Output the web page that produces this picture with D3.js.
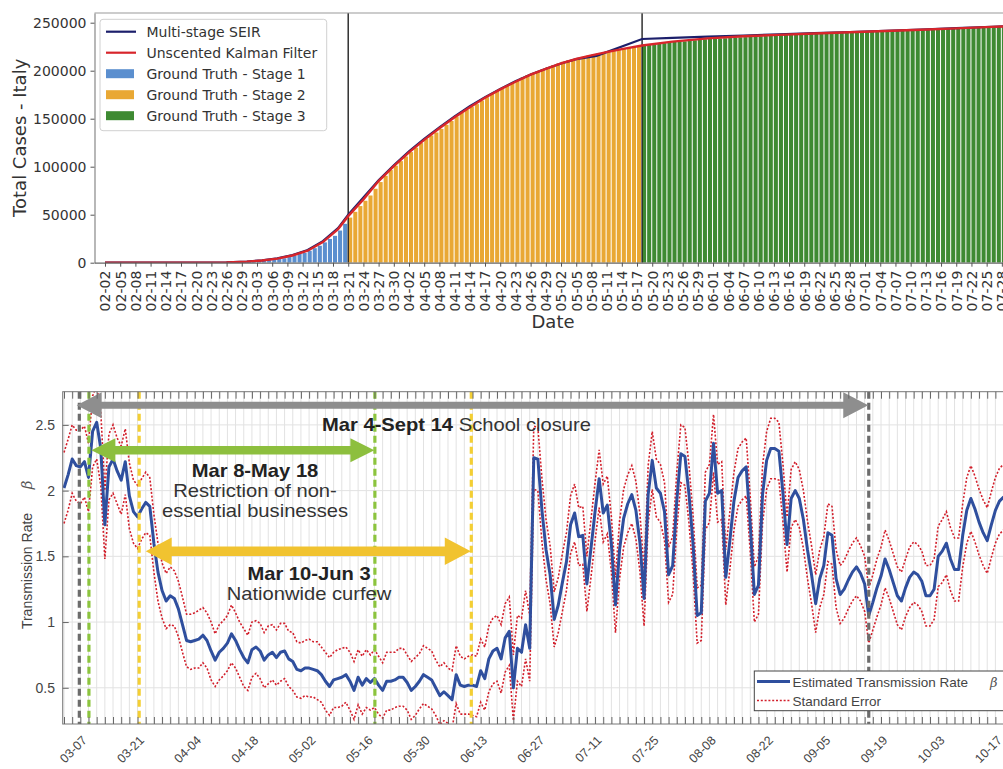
<!DOCTYPE html>
<html>
<head>
<meta charset="utf-8">
<script src="https://cdn.jsdelivr.net/npm/d3@7"></script>
<style>
  body { margin: 0; background: #fff; }
  svg { display: block; }
</style>
</head>
<body>
<div id="chart"></div>
<script>
// ---------- top panel: total cases, one bar per day from 02-02 ----------
var casesStart = new Date(2020, 1, 2);
var cases = [
  2,2,2,2,3,3,3,3,3,3,
  3,3,3,3,3,3,3,3,3,3,
  3,20,79,150,229,322,400,650,888,1128,
  1694,2036,2502,3089,3858,4636,5883,7375,9172,10149,
  12462,15113,17660,21157,24747,27980,33500,40500,47000,53000,
  59000,64500,70000,77000,84000,90500,96500,101000,105800,110600,
  115200,119800,124600,128900,132500,135600,139400,143600,147600,152300,
  156400,159500,162500,165200,168900,172400,175900,179000,181200,184000,
  187300,190000,193000,195400,197700,199400,201500,203600,205500,207400,
  209300,210700,211900,213000,214500,215900,217200,218300,219100,219800,
  221200,222100,223100,223900,224800,225400,225900,226700,227400,228000,
  228700,229300,229900,230200,230600,231100,231700,232200,232700,233000,
  233200,233500,233800,234000,234500,234800,235000,235300,235600,235800,
  236100,236300,236700,237000,237300,237500,237800,238200,238000,238300,
  238500,238700,238800,239400,239700,240000,240100,240300,240400,240600,
  240800,241000,241200,241400,241600,241800,242000,242100,242400,242600,
  242800,243100,243200,243300,243500,243700,244000,244200,244400,244600,
  244800,245000,245300,245600,245900,246100,246300,246500,246800
];
var stageStart = [0, 48, 106];   // day index where each stage begins
var stageNames = ["Ground Truth - Stage 1", "Ground Truth - Stage 2", "Ground Truth - Stage 3"];

var seirDays  = [0,18,24,28,31,34,37,40,43,46,48,51,54,57,60,63,66,69,72,75,78,81,84,87,90,93,97,106,112,119,126,133,140,147,154,161,168,175,182];
var seirCases = [0,60,350,1200,2500,4600,8000,13200,22500,36000,50000,68000,86000,101500,116000,129000,141000,152500,163000,172500,181000,189000,196000,202000,207500,212000,215500,233000,234200,235400,236600,237800,239100,240300,241600,242900,244300,245800,247300];
var ukfDays   = [0,18,24,28,31,34,37,40,43,46,48,51,54,57,60,63,66,69,72,75,78,81,84,87,90,93,96,99,102,106,112,119,126,133,140,147,154,161,168,175,182];
var ukfCases  = [0,50,300,1100,2300,4300,7500,12500,21500,35000,48500,66000,85000,100500,115000,128000,140000,151500,162000,171800,180500,188500,195800,202000,207600,212200,216000,219300,222500,226300,230300,233700,235900,237300,238700,240000,241300,242700,244100,245600,247100];
var caseTicks = [0, 50000, 100000, 150000, 200000, 250000];

// ---------- bottom panel: transmission rate, daily from 03-01 ----------
var betaStart = new Date(2020, 2, 1);
var beta = [
  2.02,2.12,2.24,2.19,2.18,2.22,2.10,2.45,2.52,2.32,
  1.74,2.18,2.24,2.15,2.08,2.22,1.96,1.84,1.80,1.86,
  1.91,1.88,1.60,1.38,1.24,1.16,1.20,1.18,1.10,0.98,
  0.86,0.85,0.86,0.87,0.90,0.86,0.78,0.71,0.77,0.80,
  0.84,0.91,0.86,0.79,0.73,0.69,0.79,0.81,0.78,0.71,
  0.75,0.77,0.73,0.77,0.78,0.72,0.70,0.64,0.63,0.65,
  0.65,0.64,0.63,0.60,0.55,0.51,0.56,0.57,0.58,0.60,
  0.55,0.48,0.58,0.52,0.57,0.54,0.57,0.52,0.48,0.55,
  0.55,0.56,0.58,0.58,0.54,0.48,0.51,0.55,0.60,0.58,
  0.56,0.50,0.44,0.47,0.44,0.41,0.60,0.52,0.51,0.52,
  0.52,0.51,0.63,0.57,0.72,0.78,0.80,0.72,0.88,0.93,
  0.50,0.80,0.77,0.98,0.80,2.25,2.24,1.85,1.55,1.36,
  1.02,1.13,1.30,1.46,1.74,1.83,1.65,1.66,1.29,1.56,
  1.84,2.09,1.83,1.89,1.59,1.13,1.55,1.79,1.90,1.97,
  1.85,1.60,1.18,1.97,2.23,2.02,1.98,1.84,1.36,1.43,
  1.92,2.28,2.26,1.97,1.59,1.05,1.07,1.92,1.98,2.36,
  1.98,2.00,1.34,1.62,1.92,2.10,2.15,2.18,1.74,1.21,
  1.28,1.97,2.23,2.32,2.32,2.30,1.98,1.59,1.94,2.00,
  1.94,1.78,1.55,1.36,1.14,1.33,1.43,1.68,1.66,1.33,
  1.21,1.25,1.32,1.38,1.42,1.37,1.29,1.05,1.15,1.26,
  1.35,1.48,1.40,1.30,1.20,1.16,1.26,1.34,1.38,1.36,
  1.31,1.20,1.20,1.25,1.50,1.54,1.60,1.48,1.40,1.40,
  1.66,1.85,1.94,1.86,1.76,1.68,1.62,1.74,1.85,1.92,
  1.95,1.97
];
var betaSE = [
  .27,.27,.26,.27,.28,.27,.26,.27,.28,.28,
  .26,.25,.26,.25,.26,.25,.25,.24,.24,.23,
  .23,.22,.22,.22,.21,.21,.22,.21,.21,.21,
  .20,.21,.21,.22,.21,.21,.22,.20,.21,.21,
  .21,.22,.21,.21,.22,.21,.21,.20,.21,.21,
  .22,.21,.21,.22,.21,.21,.22,.21,.21,.21,
  .22,.21,.22,.21,.22,.22,.21,.22,.22,.21,
  .22,.22,.21,.22,.22,.21,.22,.22,.21,.22,
  .22,.21,.22,.22,.21,.22,.22,.21,.22,.22,
  .22,.21,.22,.22,.21,.22,.22,.22,.21,.22,
  .23,.23,.24,.24,.25,.25,.25,.26,.26,.26,
  .25,.25,.26,.26,.25,.24,.24,.24,.23,.22,
  .21,.21,.22,.22,.22,.22,.22,.22,.21,.22,
  .22,.22,.22,.22,.21,.21,.22,.22,.22,.22,
  .22,.22,.21,.22,.22,.22,.22,.22,.21,.22,
  .22,.22,.22,.22,.22,.21,.21,.22,.22,.22,
  .22,.22,.21,.22,.22,.22,.22,.22,.21,.21,
  .22,.22,.22,.23,.23,.22,.22,.21,.22,.22,
  .22,.22,.22,.22,.22,.22,.22,.22,.22,.22,
  .22,.22,.22,.22,.22,.21,.21,.21,.21,.22,
  .22,.22,.22,.22,.22,.22,.22,.23,.23,.23,
  .23,.23,.23,.23,.23,.24,.24,.24,.24,.24,
  .24,.25,.25,.25,.25,.25,.25,.25,.25,.25,
  .25,.25
];
var betaTicks = [0.5, 1, 1.5, 2, 2.5];

// policy periods (day index from 03-01 where the dashed lines / arrows sit)
var policyBold  = ["Mar 4-Sept 14", "Mar 8-May 18", "Mar 10-Jun 3"];
var policyText  = [["School closure"], ["Restriction of non-", "essential businesses"], ["Nationwide curfew"]];
var policyLineA = [3.75, 6.1, 18.4];
var policyLineB = [197, 76.1, 99.7];
var policyArrowA = [3.1, 6.7, 20.0];

var W = 1003, H = 769;
var fmtMD = d3.timeFormat("%m-%d");

var svg = d3.select("#chart")
  .append("svg")
  .attr("width", W)
  .attr("height", H);

// ================= top panel =================
var topFont = "'DejaVu Sans', Verdana, sans-serif";
var stageColors = ["#5b8fcf", "#e9a834", "#3e8a32"];
var pxDay = 5.067;
var xT = d3.scaleLinear().domain([-2.07, 186]).range([94.5, 94.5 + 188.07 * pxDay]);
var yT = d3.scaleLinear().domain([0, 260100]).range([262.7, 13]);

var gTop = svg.append("g").style("font-family", topFont);

gTop.append("clipPath").attr("id", "clipTop")
  .append("rect").attr("x", 94.5).attr("y", 0).attr("width", W - 94.5).attr("height", 262.7);

function stageOf(i) {
  return i >= stageStart[2] ? 2 : (i >= stageStart[1] ? 1 : 0);
}

var plotTop = gTop.append("g").attr("clip-path", "url(#clipTop)");

plotTop.selectAll("rect.bar")
  .data(cases)
  .join("rect")
    .attr("class", "bar")
    .attr("x", function(d, i) { return xT(i); })
    .attr("width", xT(0.8) - xT(0))
    .attr("y", function(d) { return yT(d); })
    .attr("height", function(d) { return yT(0) - yT(d); })
    .attr("fill", function(d, i) { return stageColors[stageOf(i)]; });

// stage boundaries
plotTop.selectAll("line.stage")
  .data(stageStart.slice(1))
  .join("line")
    .attr("x1", function(d) { return xT(d); })
    .attr("x2", function(d) { return xT(d); })
    .attr("y1", 13).attr("y2", 262.7)
    .attr("stroke", "#222").attr("stroke-width", 1.4);

var lineT = d3.line()
  .x(function(d) { return xT(d[0]); })
  .y(function(d) { return yT(d[1]); });

plotTop.append("path")
  .attr("d", lineT(d3.zip(seirDays, seirCases)))
  .attr("fill", "none").attr("stroke", "#1c1f6b").attr("stroke-width", 2.2);

plotTop.append("path")
  .attr("d", lineT(d3.zip(ukfDays, ukfCases)))
  .attr("fill", "none").attr("stroke", "#d7252b").attr("stroke-width", 2.4);

// spines
gTop.append("line").attr("x1", 94.5).attr("x2", W).attr("y1", 13).attr("y2", 13)
  .attr("stroke", "#999").attr("stroke-width", 1.2);

var yAxisT = gTop.append("g")
  .attr("transform", "translate(94.5,0)")
  .call(d3.axisLeft(yT).tickValues(caseTicks).tickSize(4).tickSizeOuter(0).tickPadding(4).tickFormat(d3.format("d")));
yAxisT.attr("font-family", null).attr("font-size", 14);
yAxisT.select(".domain").attr("stroke", "#888").attr("stroke-width", 1.2);
yAxisT.selectAll(".tick line").attr("stroke", "#555");
yAxisT.selectAll(".tick text").attr("fill", "#333");

var xAxisT = gTop.append("g")
  .attr("transform", "translate(0,262.7)")
  .call(d3.axisBottom(xT)
    .tickValues(d3.range(0, 180, 3))
    .tickSize(4).tickSizeOuter(0)
    .tickFormat(function(i) { return fmtMD(d3.timeDay.offset(casesStart, i)); }));
xAxisT.attr("font-family", null).attr("font-size", 14);
xAxisT.select(".domain").attr("stroke", "#666").attr("stroke-width", 1.2);
xAxisT.selectAll(".tick line").attr("stroke", "#555");
xAxisT.selectAll(".tick text")
  .attr("fill", "#333")
  .attr("transform", "rotate(-90)")
  .attr("text-anchor", "end")
  .attr("x", -8).attr("y", 0).attr("dy", "0.35em");

gTop.append("text")
  .attr("transform", "translate(26,137.8) rotate(-90)")
  .attr("text-anchor", "middle")
  .attr("font-size", 18).attr("fill", "#333")
  .text("Total Cases - Italy");

gTop.append("text")
  .attr("x", 553).attr("y", 328)
  .attr("text-anchor", "middle")
  .attr("font-size", 18).attr("fill", "#333")
  .text("Date");

// legend
var legT = gTop.append("g");
legT.append("rect")
  .attr("x", 100).attr("y", 19.3).attr("width", 226.7).attr("height", 111.4).attr("rx", 3)
  .attr("fill", "#fff").attr("fill-opacity", 0.85).attr("stroke", "#d0d0d0");

var legItems = [
  {name: "Multi-stage SEIR", type: "line", color: "#1c1f6b"},
  {name: "Unscented Kalman Filter", type: "line", color: "#d7252b"}
].concat(stageNames.map(function(n, i) { return {name: n, type: "patch", color: stageColors[i]}; }));

legItems.forEach(function(d, i) {
  var cy = 31.7 + i * 21;
  if (d.type === "line") {
    legT.append("line").attr("x1", 106).attr("x2", 136).attr("y1", cy).attr("y2", cy)
      .attr("stroke", d.color).attr("stroke-width", 2.2);
  } else {
    legT.append("rect").attr("x", 106).attr("y", cy - 4.5).attr("width", 28).attr("height", 9)
      .attr("fill", d.color);
  }
  legT.append("text").attr("x", 146.5).attr("y", cy + 5)
    .attr("font-size", 14).attr("fill", "#333").text(d.name);
});

// ================= bottom panel =================
var botFont = "'Liberation Sans', Arial, Helvetica, sans-serif";
var bx0 = 62.7, by0 = 391.7, by1 = 724;
var xB = d3.scaleLinear().domain([-0.32, 233]).range([bx0, bx0 + 233.32 * 4.085]);
var yB = d3.scaleLinear().domain([0.2245, 2.7525]).range([by1, by0]);
var gridDays = d3.range(0, 233, 2);
var labelDays = d3.range(6, 231, 14);

var gBot = svg.append("g").style("font-family", botFont);

gBot.append("clipPath").attr("id", "clipBot")
  .append("rect").attr("x", bx0).attr("y", by0).attr("width", W - bx0).attr("height", by1 - by0);

var plotB = gBot.append("g").attr("clip-path", "url(#clipBot)");

// grid
plotB.selectAll("line.vgrid")
  .data(gridDays)
  .join("line")
    .attr("x1", function(d) { return xB(d); }).attr("x2", function(d) { return xB(d); })
    .attr("y1", by0).attr("y2", by1)
    .attr("stroke", "#e2e2e2").attr("stroke-width", 1);
plotB.selectAll("line.hgrid")
  .data(betaTicks)
  .join("line")
    .attr("x1", bx0).attr("x2", W)
    .attr("y1", function(d) { return yB(d); }).attr("y2", function(d) { return yB(d); })
    .attr("stroke", "#e2e2e2").attr("stroke-width", 1);

var lineB = d3.line()
  .x(function(d, i) { return xB(i); })
  .y(function(d) { return yB(d); });

var upper = beta.map(function(b, i) { return b + betaSE[i]; });
var lower = beta.map(function(b, i) { return b - betaSE[i]; });

[upper, lower].forEach(function(s) {
  plotB.append("path")
    .attr("d", lineB(s))
    .attr("fill", "none").attr("stroke", "#d21f2b").attr("stroke-width", 1.6)
    .attr("stroke-dasharray", "2,1.8");
});

plotB.append("path")
  .attr("d", lineB(beta))
  .attr("fill", "none").attr("stroke", "#2f4f9e").attr("stroke-width", 3)
  .attr("stroke-linejoin", "round");

// dashed policy lines
var lineColors = ["#6c6c6c", "#8cc43e", "#f4cf33"];
policyLineA.forEach(function(a, i) {
  [a, policyLineB[i]].forEach(function(d) {
    plotB.append("line")
      .attr("x1", xB(d)).attr("x2", xB(d)).attr("y1", by0).attr("y2", by1)
      .attr("stroke", lineColors[i]).attr("stroke-width", 3.2)
      .attr("stroke-dasharray", "7,4");
  });
});

// double-headed arrows
function arrowPath(x1, x2, y, shaft, head, half) {
  var s = shaft / 2;
  return "M" + x1 + "," + y +
    "L" + (x1 + head) + "," + (y - half) + "L" + (x1 + head) + "," + (y - s) +
    "L" + (x2 - head) + "," + (y - s) + "L" + (x2 - head) + "," + (y - half) +
    "L" + x2 + "," + y +
    "L" + (x2 - head) + "," + (y + half) + "L" + (x2 - head) + "," + (y + s) +
    "L" + (x1 + head) + "," + (y + s) + "L" + (x1 + head) + "," + (y + half) + "Z";
}
var arrowColors = ["#8e8e8e", "#8dbf3e", "#f1c330"];
var arrowY = [405.3, 450.3, 551.3];
var arrowShaft = [7, 8.5, 9.5];
var arrowHead = [25, 24, 26];
var arrowHalf = [13, 12, 13.7];
policyArrowA.forEach(function(a, i) {
  gBot.append("path")
    .attr("d", arrowPath(xB(a), xB(policyLineB[i]) - 0.5, arrowY[i], arrowShaft[i], arrowHead[i], arrowHalf[i]))
    .attr("fill", arrowColors[i]);
});

// annotation text (slightly wide lettering as in the figure)
var stretch = 1.12;
var school = gBot.append("text")
  .attr("transform", "translate(322,431) scale(" + stretch + ",1)")
  .attr("font-size", 18).attr("fill", "#333");
school.append("tspan").attr("font-weight", "bold").attr("fill", "#222").text(policyBold[0]);
school.append("tspan").text(" " + policyText[0][0]);

var noteX = [0, 255, 309];
var noteY = [0, 477, 580];
[1, 2].forEach(function(i) {
  gBot.append("text")
    .attr("transform", "translate(" + noteX[i] + "," + noteY[i] + ") scale(" + stretch + ",1)")
    .attr("text-anchor", "middle").attr("font-size", 18).attr("font-weight", "bold").attr("fill", "#222")
    .text(policyBold[i]);
  policyText[i].forEach(function(t, k) {
    gBot.append("text")
      .attr("transform", "translate(" + noteX[i] + "," + (noteY[i] + 20 + k * 19.5) + ") scale(" + stretch + ",1)")
      .attr("text-anchor", "middle").attr("font-size", 18).attr("fill", "#333")
      .text(t);
  });
});

// box and ticks
gBot.append("rect")
  .attr("x", bx0).attr("y", by0).attr("width", xB(233) - bx0).attr("height", by1 - by0)
  .attr("fill", "none").attr("stroke", "#777").attr("stroke-width", 1);

var topTicks = gBot.append("g").attr("transform", "translate(0," + by0 + ")")
  .call(d3.axisBottom(xB).tickValues(gridDays).tickSize(7).tickFormat(""));
var botTicks = gBot.append("g").attr("transform", "translate(0," + by1 + ")")
  .call(d3.axisTop(xB).tickValues(gridDays).tickSize(7).tickFormat(""));
[topTicks, botTicks].forEach(function(g) {
  g.select(".domain").remove();
  g.selectAll(".tick line").attr("stroke", "#666");
});

var yAxisB = gBot.append("g").attr("transform", "translate(" + bx0 + ",0)")
  .call(d3.axisRight(yB).tickValues(betaTicks).tickSize(6).tickFormat(""));
yAxisB.select(".domain").remove();
yAxisB.selectAll(".tick line").attr("stroke", "#666");

gBot.selectAll("text.ylab")
  .data(betaTicks)
  .join("text")
    .attr("class", "ylab")
    .attr("x", 55).attr("y", function(d) { return yB(d); }).attr("dy", "0.35em")
    .attr("text-anchor", "end").attr("font-size", 14).attr("fill", "#444")
    .text(function(d) { return d3.format("~g")(d); });

gBot.selectAll("text.xlab")
  .data(labelDays)
  .join("text")
    .attr("class", "xlab")
    .attr("transform", function(d) { return "translate(" + (xB(d) - 4) + ",738) rotate(-45)"; })
    .attr("text-anchor", "end").attr("dy", "0.35em")
    .attr("font-size", 12.5).attr("fill", "#444")
    .text(function(d) { return fmtMD(d3.timeDay.offset(betaStart, d)); });

gBot.append("text")
  .attr("transform", "translate(32,571) rotate(-90)")
  .attr("text-anchor", "middle").attr("font-size", 14).attr("fill", "#444")
  .text("Transmission Rate");
gBot.append("text")
  .attr("transform", "translate(32,485) rotate(-90)")
  .attr("text-anchor", "middle").attr("font-size", 15).attr("font-style", "italic")
  .attr("font-family", "'DejaVu Serif', serif").attr("fill", "#555")
  .text("\u03b2");

// legend
var legB = gBot.append("g");
legB.append("rect")
  .attr("x", 754.3).attr("y", 671).attr("width", 260).attr("height", 39.7)
  .attr("fill", "#fff").attr("stroke", "#444").attr("stroke-width", 1);
legB.append("line").attr("x1", 757).attr("x2", 790).attr("y1", 681.5).attr("y2", 681.5)
  .attr("stroke", "#2f4f9e").attr("stroke-width", 3);
legB.append("line").attr("x1", 757).attr("x2", 790).attr("y1", 700.5).attr("y2", 700.5)
  .attr("stroke", "#d21f2b").attr("stroke-width", 1.6).attr("stroke-dasharray", "2,1.8");
legB.append("text").attr("x", 792.5).attr("y", 686.5)
  .attr("font-size", 13.5).attr("fill", "#444").text("Estimated Transmission Rate");
legB.append("text").attr("x", 990).attr("y", 686.5)
  .attr("font-size", 13).attr("font-style", "italic").attr("font-family", "'DejaVu Serif', serif")
  .attr("fill", "#555").text("\u03b2");
legB.append("text").attr("x", 792.5).attr("y", 705.5)
  .attr("font-size", 13.5).attr("fill", "#444").text("Standard Error");
</script>
</body>
</html>
